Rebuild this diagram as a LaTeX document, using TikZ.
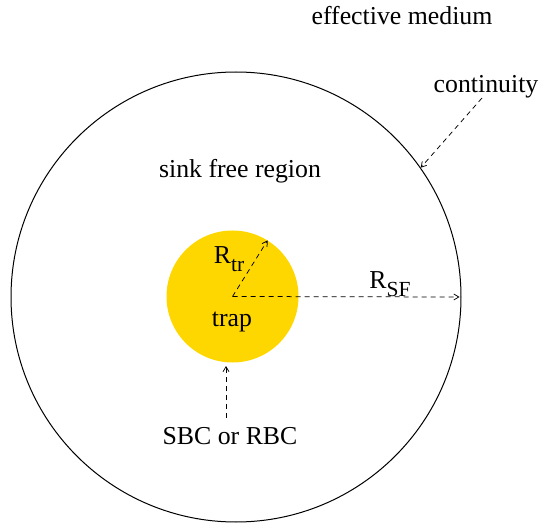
\documentclass[tikz,border=0pt]{standalone}
\usepackage{fontspec}
\setmainfont{Liberation Serif}
\usetikzlibrary{arrows.meta}
\definecolor{trapgold}{RGB}{255,215,0}
\newcommand{\subtxt}[1]{\raisebox{-0.3em}{\fontsize{21.5}{22}\selectfont #1}}
\begin{document}
\begin{tikzpicture}[x=1pt,y=-1pt,
  lbl/.style={inner sep=0pt, font=\fontsize{25.8}{30}\selectfont},
  dasharrow/.style={dashed, dash pattern=on 5pt off 4pt, line width=0.75pt, -{Straight Barb[length=5pt,width=6pt]}}]
\useasboundingbox (0,0) rectangle (539,532);
\node[circle, draw, line width=1pt, minimum size=450pt, inner sep=0pt] (big) at (236,297) {};
\node[circle, fill=trapgold, minimum size=132pt, inner sep=0pt] (trap) at (232.5,296.5) {};
\node[lbl] (em) at (402,16) {effective medium};
\node[lbl] (cont) at (486,87) {continuity};
\node[lbl] (sfr) at (240,171) {sink free region};
\node[lbl] (rtr) at (229,259) {R\subtxt{tr}};
\node[lbl] (rsf) at (390,284) {R\subtxt{SF}};
\node[lbl] (traplbl) at (232,322) {trap};
\node[lbl] (sbc) at (230,436) {SBC or RBC};
\coordinate (contstart) at (482,98);
\coordinate (sbcstart) at (226,418);
\coordinate (trapbottom) at (226,366);
\draw[dasharrow] (contstart) -- (big.35);
\draw[dasharrow] (trap.center) -- (trap.58);
\draw[dasharrow, shorten >=2pt] (trap.center) -- (big.east);
\draw[dasharrow] (sbcstart) -- (trapbottom);
\end{tikzpicture}
\end{document}
